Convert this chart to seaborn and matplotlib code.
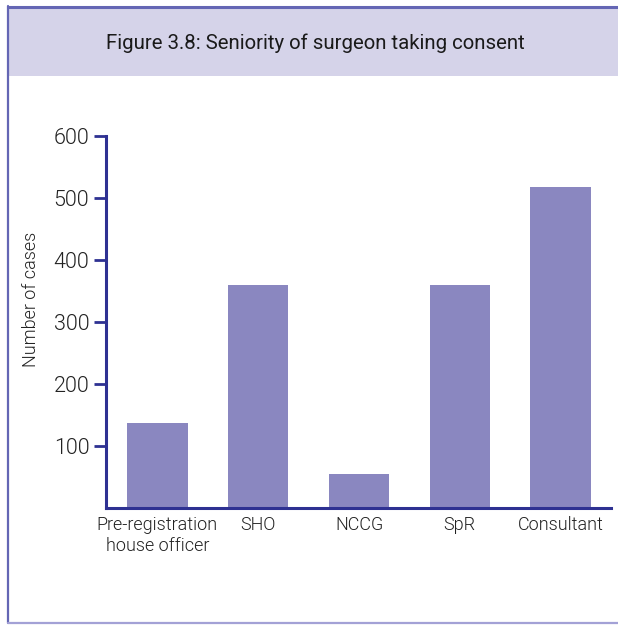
import matplotlib
matplotlib.use("Agg")
import matplotlib.pyplot as plt
import seaborn as sns
import pandas as pd
from matplotlib.patches import Rectangle
from matplotlib.lines import Line2D

categories = ["Pre-registration\nhouse officer", "SHO", "NCCG", "SpR", "Consultant"]
cases = [137, 360, 55, 360, 518]
y_ticks = [100, 200, 300, 400, 500, 600]

title = "Figure 3.8: Seniority of surgeon taking consent"
y_label = "Number of cases"

bar_color = "#8a87c0"
axis_color = "#2e3192"
band_color = "#d5d3e9"
frame_color = "#6466b4"

sns.set_theme(style="white")
plt.rcParams["font.family"] = ["Roboto", "DejaVu Sans"]
plt.rcParams["font.weight"] = 300

W, H = 618, 625
fig = plt.figure(figsize=(W / 100, H / 100), dpi=100)

def fx(px):
    return px / W

def fy(py):
    return 1 - py / H

# title band and page frame
fig.patches.append(Rectangle((fx(8), fy(76)), fx(618) - fx(8), fy(8) - fy(76),
                             transform=fig.transFigure, facecolor=band_color,
                             edgecolor="none", zorder=0))
fig.lines.append(Line2D([fx(8), fx(618)], [fy(7), fy(7)], transform=fig.transFigure,
                        color=frame_color, lw=2.2))
fig.lines.append(Line2D([fx(8), fx(8)], [fy(6), fy(623)], transform=fig.transFigure,
                        color=frame_color, lw=1.6))
fig.lines.append(Line2D([fx(8), fx(618)], [fy(623), fy(623)], transform=fig.transFigure,
                        color="#a3a1d6", lw=1.6))
fig.text(fx(315), fy(43), title, ha="center", va="center", fontsize=14.7,
         color="#1a1a1a", fontweight="normal")

ax = fig.add_axes([fx(106), fy(508), fx(611) - fx(106), fy(136) - fy(508)])
df = pd.DataFrame({"category": categories, "cases": cases})
sns.barplot(data=df, x="category", y="cases", color=bar_color, saturation=1,
            width=0.6, ax=ax, edgecolor="none")

ax.set_xlim(-0.51, 4.5)
ax.set_ylim(0, 600)
ax.set_yticks(y_ticks)
ax.set_yticklabels([str(v) for v in y_ticks], fontsize=15.5, color="#222222",
                   fontweight=300)
for lbl in ax.get_xticklabels():
    lbl.set_fontweight(300)
ax.tick_params(axis="y", length=9, width=2, color=axis_color, pad=3, left=True)
ax.tick_params(axis="x", length=0, pad=6, labelsize=13, labelcolor="#222222")
ax.set_xlabel("")
ax.set_ylabel(y_label, fontsize=13, color="#222222", fontweight=300)
ax.yaxis.set_label_coords(-0.13, 0.56)

for side in ["top", "right"]:
    ax.spines[side].set_visible(False)
for side in ["left", "bottom"]:
    ax.spines[side].set_color(axis_color)
    ax.spines[side].set_linewidth(2.2)

fig.savefig("out.png", dpi=100, facecolor="white")
